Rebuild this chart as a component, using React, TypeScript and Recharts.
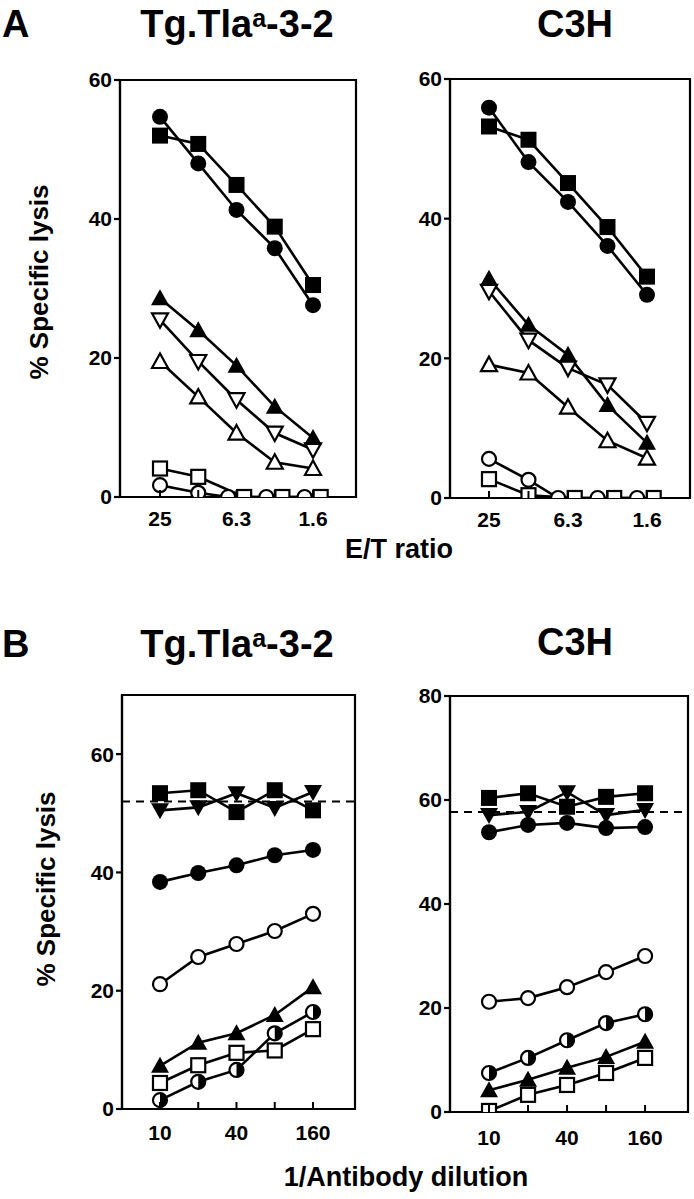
import React from "react";
import {
  LineChart,
  Line,
  XAxis,
  YAxis,
  ReferenceArea,
  ReferenceLine,
} from "recharts";

const FONT = '"Liberation Sans", Arial, Helvetica, sans-serif';

// x categories
const etRatios = ["25", "12.5", "6.3", "3.1", "1.6"];
const dilutions = ["10", "20", "40", "80", "160"];

// Panel A, Tg.Tla-3-2 (E/T ratio)
const aTgFilledCircle = [54.7, 48.0, 41.3, 35.8, 27.6];
const aTgFilledSquare = [52.0, 50.8, 44.9, 38.9, 30.5];
const aTgFilledTriangle = [28.6, 24.0, 18.9, 13.0, 8.5];
const aTgOpenInvTriangle = [25.5, 19.5, 14.0, 9.2, 6.8];
const aTgOpenTriangle = [19.5, 14.4, 9.2, 5.0, 4.1];
const aTgOpenSquare = [4.1, 2.9, 0, 0, 0];
const aTgOpenCircle = [1.7, 0.6, 0, 0, 0];
// zero points are drawn side by side in the original
const aTgOpenSquareX = [0, 1, 2.2, 3.2, 4.2];
const aTgOpenCircleX = [0, 1, 1.78, 2.78, 3.78];

// Panel A, C3H
const aC3hFilledCircle = [55.9, 48.1, 42.4, 36.1, 29.1];
const aC3hFilledSquare = [53.2, 51.3, 45.1, 38.8, 31.7];
const aC3hFilledTriangle = [31.4, 24.8, 20.5, 13.3, 7.9];
const aC3hOpenInvTriangle = [29.6, 22.6, 18.6, 16.2, 10.7];
const aC3hOpenTriangle = [19.1, 17.9, 13.0, 8.2, 5.7];
const aC3hOpenCircle = [5.6, 2.6, 0, 0, 0];
const aC3hOpenSquare = [2.7, 0.4, 0, 0, 0];
const aC3hOpenCircleX = [0, 1, 1.75, 2.75, 3.75];
const aC3hOpenSquareX = [0, 1, 2.17, 3.17, 4.17];

// Panel B, Tg.Tla-3-2 (1/antibody dilution)
const bTgFilledSquare = [53.4, 53.9, 50.2, 53.9, 50.5];
const bTgFilledInvTriangle = [50.5, 51.0, 53.4, 50.9, 53.6];
const bTgFilledCircle = [38.4, 39.9, 41.2, 42.9, 43.8];
const bTgOpenCircle = [21.1, 25.7, 27.9, 30.1, 33.0];
const bTgFilledTriangle = [7.3, 11.2, 12.8, 15.9, 20.6];
const bTgOpenSquare = [4.4, 7.4, 9.5, 9.9, 13.5];
const bTgHalfCircle = [1.5, 4.6, 6.6, 12.8, 16.4];
const bTgNoAntibody = 52;

// Panel B, C3H
const bC3hFilledSquare = [60.4, 61.3, 58.7, 60.6, 61.3];
const bC3hFilledInvTriangle = [57.1, 57.7, 61.5, 57.1, 58.1];
const bC3hFilledCircle = [53.8, 55.2, 55.6, 54.6, 54.8];
const bC3hOpenCircle = [21.2, 21.9, 24.0, 26.9, 30.0];
const bC3hHalfCircle = [7.5, 10.4, 13.8, 17.1, 18.8];
const bC3hFilledTriangle = [4.2, 6.2, 8.5, 10.6, 13.5];
const bC3hOpenSquare = [0.2, 3.3, 5.2, 7.5, 10.4];
const bC3hNoAntibody = 57.7;

type Shape =
  | "circle"
  | "openCircle"
  | "square"
  | "openSquare"
  | "triangle"
  | "openTriangle"
  | "invTriangle"
  | "openInvTriangle"
  | "halfCircle";

const makeDot = (shape: Shape, id: string) => (props: any) => {
  const { cx, cy, index } = props;
  const key = `${id}-${index}`;
  if (cx == null || cy == null) return <g key={key} />;
  const sw = 2.2;
  switch (shape) {
    case "circle":
      return <circle key={key} cx={cx} cy={cy} r={8} fill="#000" />;
    case "openCircle":
      return (
        <circle key={key} cx={cx} cy={cy} r={7} fill="#fff" stroke="#000" strokeWidth={sw} />
      );
    case "square":
      return <rect key={key} x={cx - 8} y={cy - 8} width={16} height={16} fill="#000" />;
    case "openSquare":
      return (
        <rect key={key} x={cx - 7} y={cy - 7} width={14} height={14} fill="#fff" stroke="#000" strokeWidth={sw} />
      );
    case "triangle":
      return (
        <polygon key={key} points={`${cx},${cy - 9} ${cx - 9},${cy + 7} ${cx + 9},${cy + 7}`} fill="#000" />
      );
    case "openTriangle":
      return (
        <polygon key={key} points={`${cx},${cy - 8} ${cx - 8},${cy + 6.5} ${cx + 8},${cy + 6.5}`} fill="#fff" stroke="#000" strokeWidth={sw} />
      );
    case "invTriangle":
      return (
        <polygon key={key} points={`${cx},${cy + 9} ${cx - 9},${cy - 7} ${cx + 9},${cy - 7}`} fill="#000" />
      );
    case "openInvTriangle":
      return (
        <polygon key={key} points={`${cx},${cy + 8} ${cx - 8},${cy - 6.5} ${cx + 8},${cy - 6.5}`} fill="#fff" stroke="#000" strokeWidth={sw} />
      );
    case "halfCircle":
      return (
        <g key={key}>
          <circle cx={cx} cy={cy} r={7} fill="#fff" stroke="#000" strokeWidth={sw} />
          <path d={`M${cx},${cy - 7} A7,7 0 0 1 ${cx},${cy + 7} Z`} fill="#000" />
        </g>
      );
  }
  return <g key={key} />;
};

interface Series {
  id: string;
  shape: Shape;
  values: number[];
  xs?: number[];
}

interface Box {
  L: number;
  R: number;
  T: number;
  B: number;
  xLo: number;
  xHi: number;
}

const makeXTick = (labels: string[], labelDy: number) => (props: any) => {
  const { x, y, payload } = props;
  const i = Math.round(payload.value);
  const text = i % 2 === 0 ? labels[i] : "";
  return (
    <g>
      <line x1={x} x2={x} y1={y} y2={y - 7} stroke="#000" strokeWidth={2} />
      <text
        x={x}
        y={y + labelDy}
        textAnchor="middle"
        fontFamily={FONT}
        fontWeight="bold"
        fontSize={21}
        fill="#000"
      >
        {text}
      </text>
    </g>
  );
};

function Panel({
  box,
  yMax,
  yTicks,
  labels,
  labelDy,
  series,
  dashedY,
}: {
  box: Box;
  yMax: number;
  yTicks: number[];
  labels: string[];
  labelDy: number;
  series: Series[];
  dashedY?: number;
}) {
  const yAxisW = 70;
  const xAxisH = 45;
  const width = box.R - box.L + yAxisW + 12;
  const height = box.B - box.T + 12 + xAxisH;
  return (
    <div style={{ position: "absolute", left: box.L - yAxisW, top: box.T - 12 }}>
      <LineChart
        width={width}
        height={height}
        margin={{ top: 12, right: 12, left: 0, bottom: 0 }}
      >
        <XAxis
          type="number"
          dataKey="x"
          domain={[box.xLo, box.xHi]}
          ticks={[0, 1, 2, 3, 4]}
          interval={0}
          allowDataOverflow
          height={xAxisH}
          tickSize={0}
          tickMargin={0}
          tickLine={false}
          axisLine={{ stroke: "#000", strokeWidth: 2.2 }}
          tick={makeXTick(labels, labelDy)}
        />
        <YAxis
          type="number"
          domain={[0, yMax]}
          ticks={yTicks}
          interval={0}
          allowDataOverflow
          width={yAxisW}
          tickSize={6}
          tickMargin={2}
          axisLine={{ stroke: "#000", strokeWidth: 2.2 }}
          tickLine={{ stroke: "#000", strokeWidth: 2.2 }}
          tick={{ fill: "#000", fontSize: 21, fontWeight: "bold", fontFamily: FONT }}
        />
        <ReferenceArea
          x1={box.xLo}
          x2={box.xHi}
          y1={0}
          y2={yMax}
          fill="none"
          fillOpacity={0}
          stroke="#000"
          strokeWidth={2.2}
          strokeOpacity={1}
        />
        {dashedY !== undefined && (
          <ReferenceLine y={dashedY} stroke="#000" strokeWidth={2} strokeDasharray="8 6" />
        )}
        {series.map((s) => (
          <Line
            key={s.id}
            data={s.values.map((v, i) => ({ x: s.xs ? s.xs[i] : i, y: v }))}
            dataKey="y"
            type="linear"
            stroke="#000"
            strokeWidth={2.6}
            dot={makeDot(s.shape, s.id)}
            activeDot={false}
            isAnimationActive={false}
          />
        ))}
      </LineChart>
    </div>
  );
}

const aTgSeries: Series[] = [
  { id: "oc", shape: "openCircle", values: aTgOpenCircle, xs: aTgOpenCircleX },
  { id: "os", shape: "openSquare", values: aTgOpenSquare, xs: aTgOpenSquareX },
  { id: "ot", shape: "openTriangle", values: aTgOpenTriangle },
  { id: "oit", shape: "openInvTriangle", values: aTgOpenInvTriangle },
  { id: "ft", shape: "triangle", values: aTgFilledTriangle },
  { id: "fc", shape: "circle", values: aTgFilledCircle },
  { id: "fs", shape: "square", values: aTgFilledSquare },
];

const aC3hSeries: Series[] = [
  { id: "oc", shape: "openCircle", values: aC3hOpenCircle, xs: aC3hOpenCircleX },
  { id: "os", shape: "openSquare", values: aC3hOpenSquare, xs: aC3hOpenSquareX },
  { id: "ot", shape: "openTriangle", values: aC3hOpenTriangle },
  { id: "oit", shape: "openInvTriangle", values: aC3hOpenInvTriangle },
  { id: "ft", shape: "triangle", values: aC3hFilledTriangle },
  { id: "fc", shape: "circle", values: aC3hFilledCircle },
  { id: "fs", shape: "square", values: aC3hFilledSquare },
];

const bTgSeries: Series[] = [
  { id: "hc", shape: "halfCircle", values: bTgHalfCircle },
  { id: "os", shape: "openSquare", values: bTgOpenSquare },
  { id: "ft", shape: "triangle", values: bTgFilledTriangle },
  { id: "oc", shape: "openCircle", values: bTgOpenCircle },
  { id: "fc", shape: "circle", values: bTgFilledCircle },
  { id: "fit", shape: "invTriangle", values: bTgFilledInvTriangle },
  { id: "fs", shape: "square", values: bTgFilledSquare },
];

const bC3hSeries: Series[] = [
  { id: "os", shape: "openSquare", values: bC3hOpenSquare },
  { id: "ft", shape: "triangle", values: bC3hFilledTriangle },
  { id: "hc", shape: "halfCircle", values: bC3hHalfCircle },
  { id: "oc", shape: "openCircle", values: bC3hOpenCircle },
  { id: "fc", shape: "circle", values: bC3hFilledCircle },
  { id: "fit", shape: "invTriangle", values: bC3hFilledInvTriangle },
  { id: "fs", shape: "square", values: bC3hFilledSquare },
];

const boxATg: Box = { L: 120, R: 356, T: 80, B: 497, xLo: -1.046, xHi: 5.124 };
const boxAC3h: Box = { L: 450, R: 690, T: 79, B: 498, xLo: -0.987, xHi: 5.089 };
const boxBTg: Box = { L: 122, R: 355, T: 695, B: 1109, xLo: -0.993, xHi: 5.098 };
const boxBC3h: Box = { L: 450, R: 688, T: 696, B: 1112, xLo: -1.0, xHi: 5.1 };

const txt = { fontFamily: FONT, fontWeight: "bold" as const, fill: "#000" };

function Title({ x, y }: { x: number; y: number }) {
  return (
    <text x={x} y={y} textAnchor="middle" fontSize={38} {...txt}>
      Tg.Tla
      <tspan fontSize={25} dy={-10}>a</tspan>
      <tspan dy={10}>-3-2</tspan>
    </text>
  );
}

export default function App() {
  return (
    <div
      style={{
        position: "absolute",
        left: 0,
        top: 0,
        width: 694,
        height: 1199,
        background: "#fff",
        overflow: "hidden",
      }}
    >
      <svg
        width={694}
        height={1199}
        style={{ position: "absolute", left: 0, top: 0 }}
      >
        <text x={2} y={37} fontSize={38} {...txt}>A</text>
        <Title x={237} y={37} />
        <text x={575} y={37} textAnchor="middle" fontSize={38} {...txt}>C3H</text>
        <text x={48} y={282} textAnchor="middle" fontSize={26} transform="rotate(-90 48 282)" {...txt}>
          % Specific lysis
        </text>
        <text x={399} y={558} textAnchor="middle" fontSize={27} {...txt}>E/T ratio</text>

        <text x={2} y={657} fontSize={38} {...txt}>B</text>
        <Title x={237} y={657} />
        <text x={575} y={655} textAnchor="middle" fontSize={38} {...txt}>C3H</text>
        <text x={55} y={889} textAnchor="middle" fontSize={26} transform="rotate(-90 55 889)" {...txt}>
          % Specific lysis
        </text>
        <text x={406} y={1186} textAnchor="middle" fontSize={27} {...txt}>1/Antibody dilution</text>
      </svg>

      <Panel box={boxATg} yMax={60} yTicks={[0, 20, 40, 60]} labels={etRatios} labelDy={29} series={aTgSeries} />
      <Panel box={boxAC3h} yMax={60} yTicks={[0, 20, 40, 60]} labels={etRatios} labelDy={29} series={aC3hSeries} />
      <Panel
        box={boxBTg}
        yMax={70}
        yTicks={[0, 20, 40, 60]}
        labels={dilutions}
        labelDy={31}
        series={bTgSeries}
        dashedY={bTgNoAntibody}
      />
      <Panel
        box={boxBC3h}
        yMax={80}
        yTicks={[0, 20, 40, 60, 80]}
        labels={dilutions}
        labelDy={33}
        series={bC3hSeries}
        dashedY={bC3hNoAntibody}
      />
    </div>
  );
}
